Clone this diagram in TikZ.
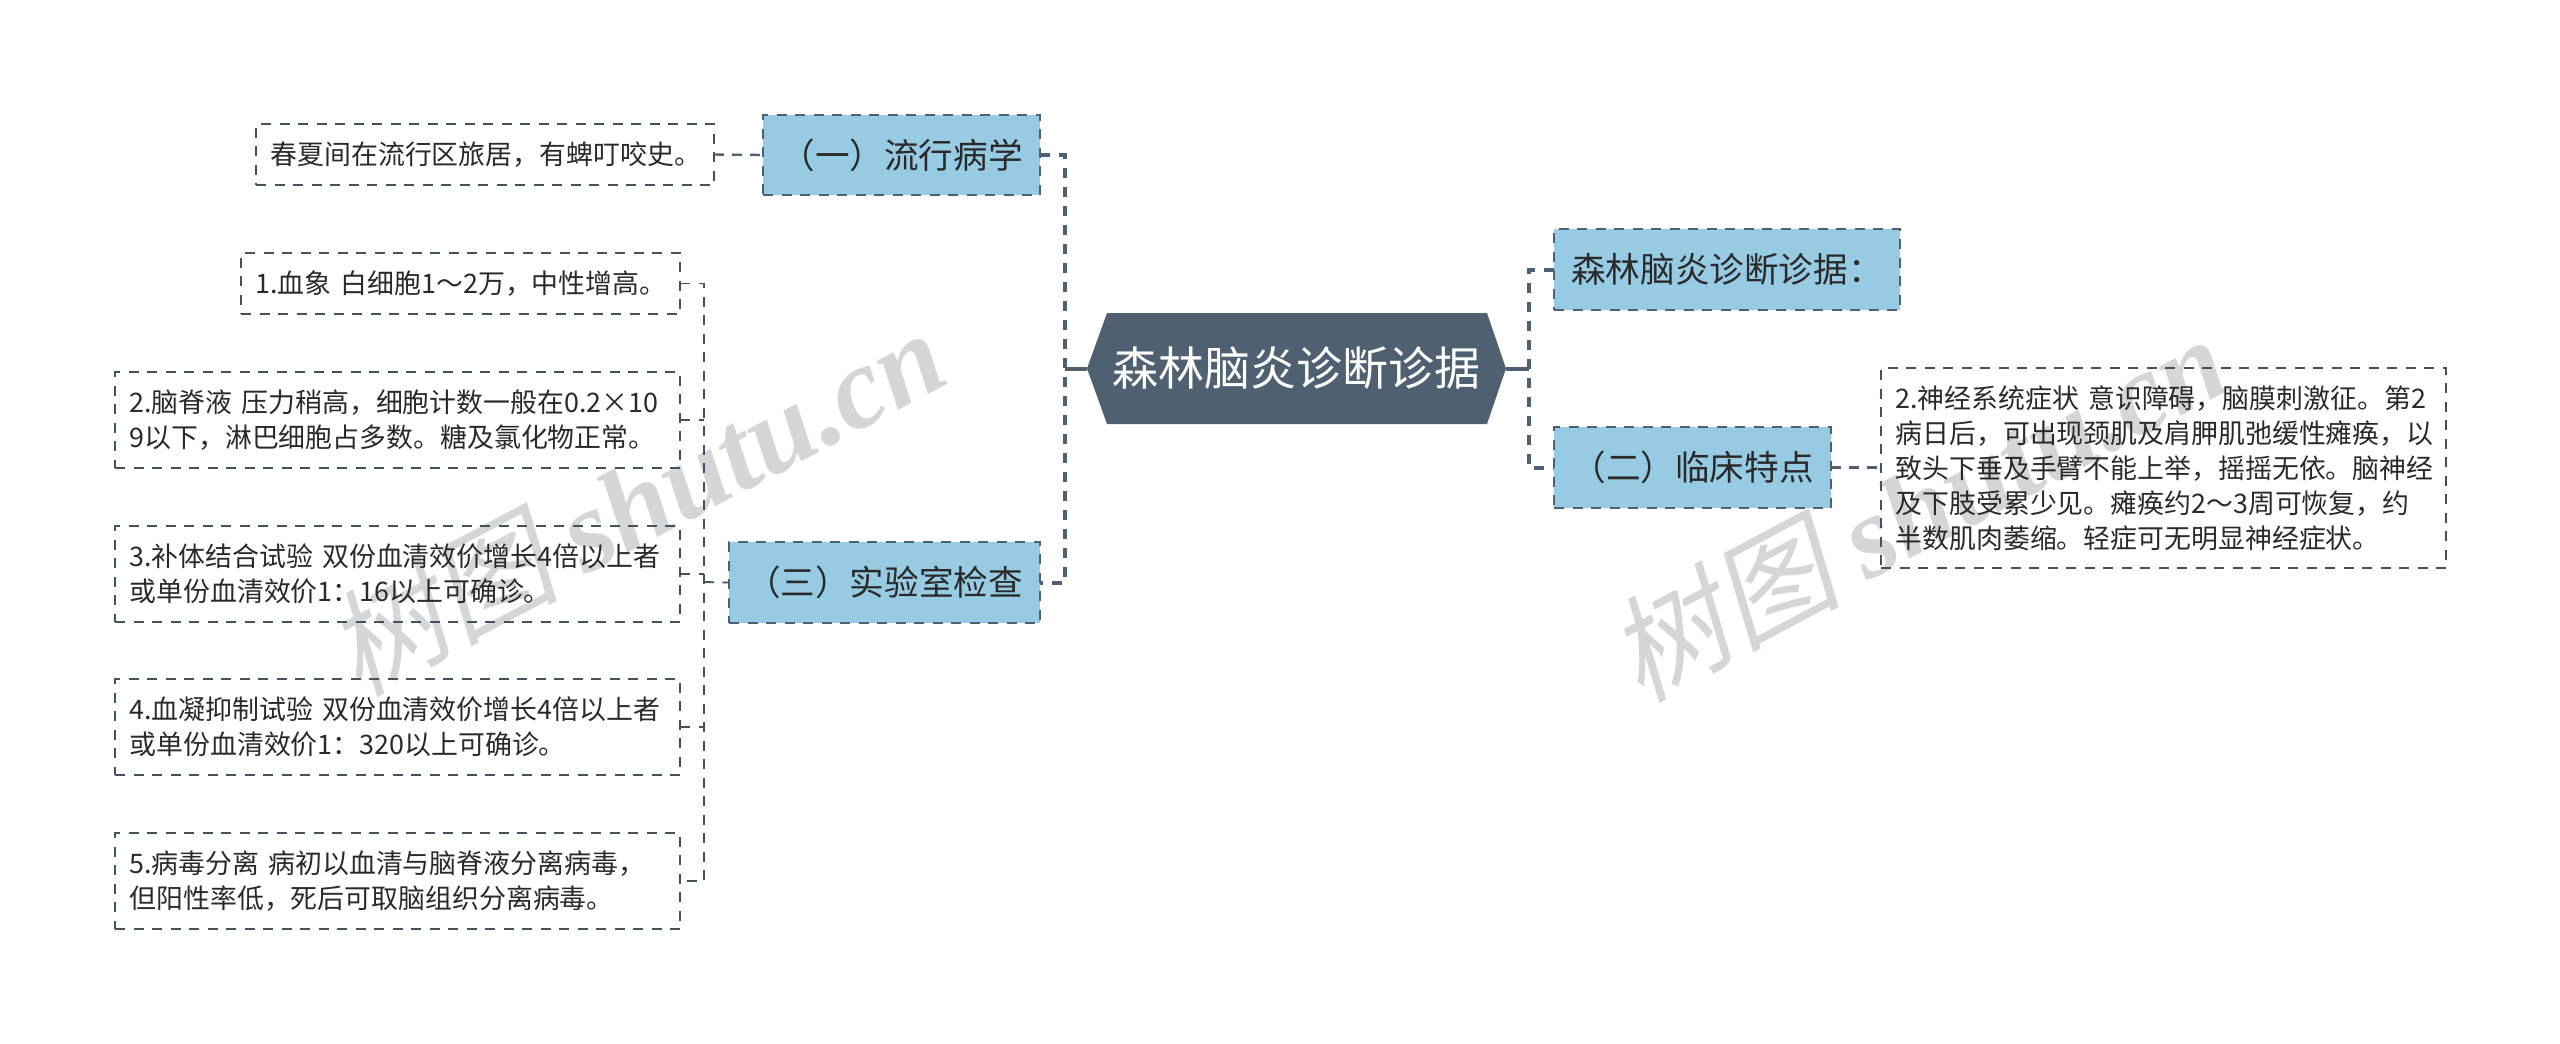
\documentclass[tikz,border=0pt]{standalone}
\usepackage{fontspec}
\setmainfont{Noto Sans CJK SC}
\newfontfamily\wmlatin{Liberation Serif}
\newfontfamily\wmcjk[FakeSlant=0.2]{Noto Sans CJK SC}
\definecolor{edgec}{HTML}{4F6070}
\definecolor{leafedge}{HTML}{45525E}
\definecolor{bluec}{HTML}{96CBE3}
\definecolor{txtc}{HTML}{2A2A2A}
\definecolor{wmc}{HTML}{D6D6D6}
\tikzset{
  boxbase/.style={dash pattern=on 10pt off 8.5pt,anchor=north west,text=txtc,outer sep=0pt},
  leafbox/.style={boxbase,draw=leafedge,line width=1.8pt,inner xsep=14.5pt,inner ysep=0pt,font=\fontsize{26.9pt}{35pt}\selectfont,align=left},
  topicbox/.style={boxbase,draw=edgec,line width=2.6pt,fill=bluec,inner sep=0pt,font=\fontsize{34.6pt}{40pt}\selectfont},
  link/.style={draw=edgec,line width=2.4pt,dash pattern=on 10pt off 8pt},
  thinlink/.style={draw=leafedge,line width=1.8pt,dash pattern=on 10pt off 8.5pt},
  mainlink/.style={draw=edgec,line width=4pt,dash pattern=on 10pt off 9pt},
  rootlink/.style={draw=edgec,line width=4pt},
  wmark/.style={text=wmc,rotate=28,inner sep=0pt,font=\fontsize{116pt}{120pt}\selectfont},
}
\newcommand{\topicat}[6]{% name, x0, y0, x1, y1, text
  \pgfmathsetmacro{\boxw}{#4-#2}\pgfmathsetmacro{\boxh}{#5-#3}
  \node[topicbox,minimum width=\boxw pt,minimum height=\boxh pt] (#1) at (#2,#3) {#6};}
\newcommand{\leafat}[6]{% name, x0, y0, x1, y1, text
  \pgfmathsetmacro{\boxw}{#4-#2-29}\pgfmathsetmacro{\boxh}{#5-#3}
  \node[leafbox,text width=\boxw pt,minimum height=\boxh pt] (#1) at (#2,#3) {#6};}
\begin{document}
\begin{tikzpicture}[x=1pt,y=-1pt]
\useasboundingbox (0,0) rectangle (2560,1044);
% watermarks
\node[wmark] (wmA) at (635,500) {{\wmcjk 树图} {\wmlatin\itshape\bfseries shutu.cn}};
\node[wmark] (wmB) at (1917,506) {{\wmcjk 树图} {\wmlatin\itshape\bfseries shutu.cn}};
% root
\coordinate (rootW) at (1087,368.5);
\coordinate (rootE) at (1506,368.5);
\fill[edgec] (rootW) -- (1107,313) -- (1487,313) -- (rootE) -- (1487,424) -- (1107,424) -- cycle;
\node[text=white,inner sep=0pt,font=\fontsize{46pt}{50pt}\selectfont] (root) at (1296.5,368.5) {森林脑炎诊断诊据};
% topics
\topicat{ta}{763}{115}{1040}{195}{（一）流行病学}
\topicat{tc}{729}{542}{1040}{623}{（三）实验室检查}
\topicat{td}{1554}{229}{1900}{310}{森林脑炎诊断诊据：}
\topicat{tb}{1554}{427}{1831}{508}{（二）临床特点}
% leaves
\leafat{la}{256}{124}{714}{185}{\mbox{春夏间在流行区旅居，有蜱叮咬史。}}
\leafat{l1}{241}{253}{680}{314}{\mbox{1.血象 白细胞1～2万，中性增高。}}
\leafat{l2}{115}{372}{680}{468}{\mbox{2.脑脊液 压力稍高，细胞计数一般在0.2×10}\\\mbox{9以下，淋巴细胞占多数。糖及氯化物正常。}}
\leafat{l3}{115}{526}{680}{622}{\mbox{3.补体结合试验 双份血清效价增长4倍以上者}\\\mbox{或单份血清效价1：16以上可确诊。}}
\leafat{l4}{115}{679}{680}{775}{\mbox{4.血凝抑制试验 双份血清效价增长4倍以上者}\\\mbox{或单份血清效价1：320以上可确诊。}}
\leafat{l5}{115}{833}{680}{929}{\mbox{5.病毒分离 病初以血清与脑脊液分离病毒，}\\\mbox{但阳性率低，死后可取脑组织分离病毒。}}
\leafat{lr}{1881}{368}{2446}{568}{\mbox{2.神经系统症状 意识障碍，脑膜刺激征。第2}\\\mbox{病日后，可出现颈肌及肩胛肌弛缓性瘫痪，以}\\\mbox{致头下垂及手臂不能上举，摇摇无依。脑神经}\\\mbox{及下肢受累少见。瘫痪约2～3周可恢复，约}\\\mbox{半数肌肉萎缩。轻症可无明显神经症状。}}
% connectors
\coordinate (sl) at (1065,368.5);
\coordinate (sr) at (1529,368.5);
\coordinate (br) at (704,582);
\draw[rootlink] (sl) -- (rootW);
\draw[rootlink] (rootE) -- (sr);
\draw[mainlink] (ta.east) -- (sl |- ta.east) -- (sl |- tc.east) -- (tc.east);
\draw[mainlink] (td.west) -- (sr |- td.west) -- (sr |- tb.west) -- (tb.west);
\draw[link] (la.east) -- (ta.west);
\draw[link] (tb.east) -- (lr.west |- tb.east);
\draw[thinlink] (br) -- (tc.west);
\draw[thinlink] (l1.east) -- (br |- l1.east) -- (br |- l5.east) -- (l5.east);
\draw[thinlink] (l2.east) -- (br |- l2.east);
\draw[thinlink] (l3.east) -- (br |- l3.east);
\draw[thinlink] (l4.east) -- (br |- l4.east);
\end{tikzpicture}
\end{document}
